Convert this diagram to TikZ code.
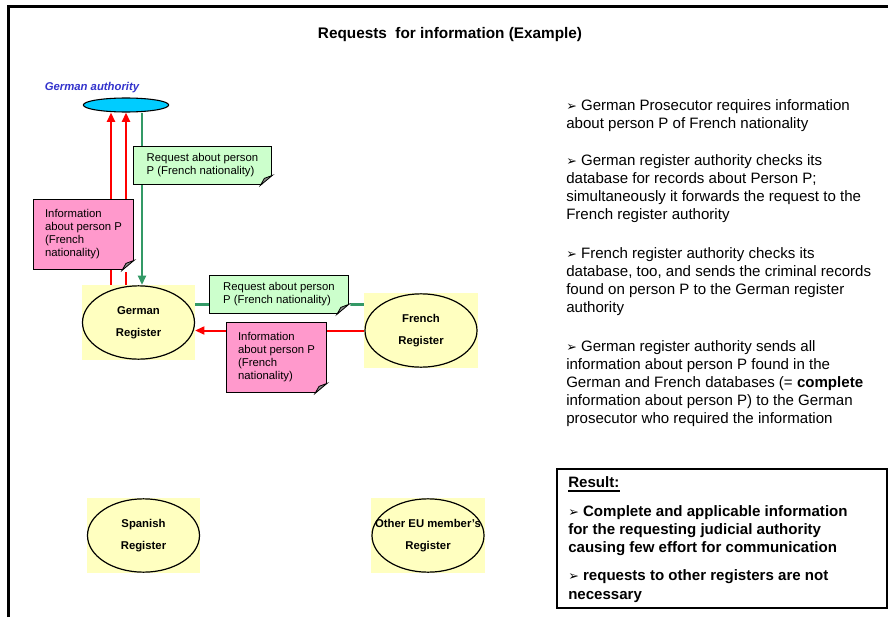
\documentclass[tikz,border=0pt]{standalone}
\usepackage{fontspec}
\setmainfont{Liberation Sans}
\newfontfamily\dejavu{DejaVu Sans}
\usepackage{tikz}
\usetikzlibrary{arrows.meta,shapes,calc,backgrounds}
\definecolor{reqgreen}{HTML}{339966}
\definecolor{reqfill}{HTML}{CCFFCC}
\definecolor{infofill}{HTML}{FF99CC}
\definecolor{regfill}{HTML}{FFFFC0}
\definecolor{authblue}{HTML}{3333CC}
\definecolor{authcyan}{HTML}{00CCFF}
\newcommand{\bul}{{\dejavu\fontsize{9.5}{8}\selectfont ➢}\ }
\newcommand{\fold}[1]{%
  \fill[white] ($(#1.south east)+(-13,1.5)$) -- ($(#1.south east)+(1.5,1.5)$) -- ($(#1.south east)+(1.5,-11.5)$) -- cycle;
  \filldraw[fill=black!45, line width=0.6pt] ($(#1.south east)+(-12,0)$) -- ($(#1.south east)+(-8,-7)$) -- ($(#1.south east)+(0,-10)$) -- cycle;
}

\begin{document}
\begin{tikzpicture}[x=0.75pt,y=-0.75pt,>={Triangle[length=7pt,width=6pt]}]
        \tikzstyle{authcloud} = [ellipse, draw, fill=authcyan, minimum width=64pt, minimum height=10.5pt, inner sep=0, line width=0.8pt]
        \tikzstyle{authlabel} = [text=authblue, font=\bfseries\itshape\fontsize{8.5}{9}\selectfont]
        \tikzstyle{regbox} = [rectangle, fill=regfill, minimum width=85pt, minimum height=56pt, inner sep=0]
        \tikzstyle{register} = [ellipse, draw, line width=0.9pt, minimum width=84pt, minimum height=55pt, inner sep=0]
        \tikzstyle{regtext} = [align=center, inner sep=0, font=\bfseries\fontsize{8.5}{16.5}\selectfont]
        \tikzstyle{note} = [rectangle, draw, line width=0.8pt, align=left, inner sep=0, font=\fontsize{8.5}{9.75}\selectfont]
        \tikzstyle{reqnote} = [note, fill=reqfill, minimum width=104pt, minimum height=29pt]
        \tikzstyle{infonote} = [note, fill=infofill, minimum width=75pt, minimum height=53pt]
        \tikzstyle{reqline} = [->, draw=reqgreen, line width=1.8pt]
        \tikzstyle{infoline} = [->, draw=red, line width=1.5pt]
        \tikzstyle{bullets} = [anchor=north west, inner sep=0, align=left, font=\fontsize{11.3}{13.5}\selectfont]
        \tikzstyle{results} = [bullets, font=\bfseries\fontsize{11.3}{13.5}\selectfont]

        \useasboundingbox (0,0) rectangle (888,617);

        % Frame and title
        \draw[line width=2.25pt] (8.5,617) -- (8.5,6.5) -- (888,6.5);
        \node[font=\bfseries\fontsize{11.5}{13}\selectfont] (title) at (450,35) {Requests\ \ for information (Example)};

        % Nodes
        \node[authlabel] (galab) at (92,88) {German authority};
        \node[authcloud] (ga) at (126,105) {};
        \node[regbox] (grb) at (138.5,322.5) {};
        \node[register, label={[regtext]center:{German\\Register}}] (gr) at (grb) {};
        \node[regbox] (frb) at (421,330.5) {};
        \node[register, label={[regtext]center:{French\\Register}}] (fr) at (frb) {};
        \node[regbox] (spb) at (143.5,535.5) {};
        \node[register, label={[regtext]center:{Spanish\\Register}}] (sp) at (spb) {};
        \node[regbox] (eub) at (428,535.5) {};
        \node[register, label={[regtext]center:{Other EU member's\\Register}}] (eu) at (eub) {};

        \node[reqnote] (rq1) at (202.5,165.5) {Request about person\\P (French nationality)};
        \node[infonote] (in1) at (83.5,234.5) {Information\\about person P\\(French\\nationality)};
        \node[reqnote] (rq2) at (279,294.5) {Request about person\\P (French nationality)};
        \node[infonote] (in2) at (276.5,357.5) {Information\\about person P\\(French\\nationality)};
        \fold{rq1}
        \fold{in1}
        \fold{rq2}
        \fold{in2}

        % Edges
        \begin{scope}[on background layer]
        \path ($(grb.north -| ga.south)+(-15,0)$) edge[infoline] ($(ga.south)+(-15,0)$);
        \path (grb.north -| ga.south) edge[infoline] (ga.south);
        \path ($(ga.south)+(16,0)$) edge[reqline] ($(grb.north -| ga.south)+(16,0)$);
        \path (gr.20) edge[reqline] ($(fr.west |- gr.20)+(9,0)$);
        \path (fr.west) edge[infoline] (gr.east |- fr.west);
        \end{scope}

        % Steps
        \node[bullets] (s1) at (566,99.5) {\bul German Prosecutor requires information\\about person P of French nationality};
        \node[bullets] (s2) at (566,154.5) {\bul German register authority checks its\\database for records about Person P;\\simultaneously it forwards the request to the\\French register authority};
        \node[bullets] (s3) at (566,247.5) {\bul French register authority checks its\\database, too, and sends the criminal records\\found on person P to the German register\\authority};
        \node[bullets] (s4) at (566,340.5) {\bul German register authority sends all\\information about person P found in the\\German and French databases (= \textbf{complete}\\information about person P) to the German\\prosecutor who required the information};

        % Result
        \node[draw, line width=1.5pt, minimum width=247.5pt, minimum height=104.25pt, inner sep=0] (res) at (722,538.5) {};
        \node[results] (rt) at (568,476.5) {Result:};
        \draw[line width=1.8pt] ([yshift=-2pt]rt.south west) -- ([yshift=-2pt]rt.south east);
        \node[results] (r1) at (568,505.5) {\bul Complete and applicable information\\for the requesting judicial authority\\causing few effort for communication};
        \node[results, font=\bfseries\fontsize{11.3}{14.25}\selectfont] (r2) at (568,569.5) {\bul requests to other registers are not\\necessary};
\end{tikzpicture}
\end{document}
